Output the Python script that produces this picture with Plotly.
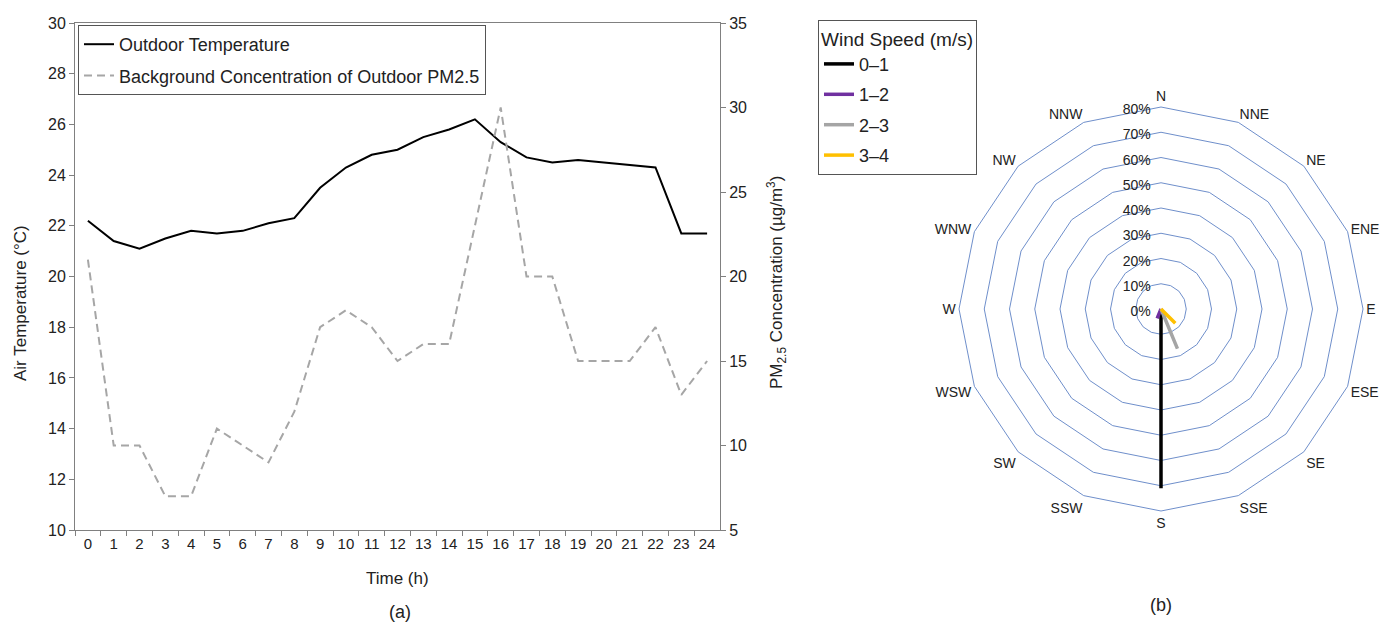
import plotly.graph_objects as go

# ---- Data (a): hourly outdoor temperature and PM2.5 ----
hours = [str(h) for h in range(25)]
temperature = [22.2, 21.4, 21.1, 21.5, 21.8, 21.7, 21.8, 22.1, 22.3, 23.5, 24.3, 24.8, 25.0,
               25.5, 25.8, 26.2, 25.3, 24.7, 24.5, 24.6, 24.5, 24.4, 24.3, 21.7, 21.7]
pm25 = [21, 10, 10, 7, 7, 11, 10, 9, 12, 17, 18, 17, 15, 16, 16, 23, 30, 20, 20, 15, 15, 15, 17, 13, 15]

# ---- Data (b): wind rose (% of time per direction and speed class) ----
directions = ["N", "NNE", "NE", "ENE", "E", "ESE", "SE", "SSE",
              "S", "SSW", "SW", "WSW", "W", "WNW", "NW", "NNW"]
speed_classes = ["0\u20131", "1\u20132", "2\u20133", "3\u20134"]
freq_0_1 = [0, 0, 0, 0, 0, 0, 0, 0, 71, 0, 0, 0, 0, 0, 0, 0]
freq_1_2 = [0, 0, 0, 0, 0, 0, 0, 0, 0, 4, 0, 0, 0, 0, 0, 0]
freq_2_3 = [0, 0, 0, 0, 0, 0, 0, 17, 0, 0, 0, 0, 0, 0, 0, 0]
freq_3_4 = [0, 0, 0, 0, 0, 0, 8, 0, 0, 0, 0, 0, 0, 0, 0, 0]
speed_colors = ["#000000", "#7030A0", "#A5A5A5", "#FFC000"]

W, H = 1386, 625
FONT = "Arial, Liberation Sans, sans-serif"
AX = "#808080"
TXT = "#222222"

def px(x):
    return x / W

def py(y):
    return 1 - y / H

fig = go.Figure()

fig.add_trace(go.Scatter(
    x=hours, y=temperature, mode="lines", name="Outdoor Temperature",
    line=dict(color="black", width=2), legend="legend", legendgroup="a1",
    xaxis="x", yaxis="y"))
fig.add_trace(go.Scatter(
    x=hours, y=pm25, mode="lines", name="Background Concentration of Outdoor PM2.5",
    line=dict(color="#A6A6A6", width=2, dash="8px,5px"), legend="legend", legendgroup="a2",
    xaxis="x", yaxis="y2"))

for i, (name, vals, col) in enumerate(zip(speed_classes, [freq_0_1, freq_1_2, freq_2_3, freq_3_4],
                                          speed_colors)):
    fig.add_trace(go.Scatterpolar(
        r=vals + vals[:1], theta=directions + directions[:1], mode="lines", name=name,
        line=dict(color=col, width=3.5), legend="legend2", legendgroup="b%d" % i,
        subplot="polar"))

grid_col = "#6F8FCB"
YTICKF = dict(size=16, color=TXT)
XTICKF = dict(size=15, color=TXT)

fig.update_layout(
    width=W, height=H, autosize=False,
    margin=dict(l=0, r=0, t=0, b=0, autoexpand=False),
    paper_bgcolor="white", plot_bgcolor="white",
    font=dict(family=FONT, color=TXT, size=16),
    xaxis=dict(domain=[px(75), px(720)], type="category", categoryorder="array",
               categoryarray=hours, range=[-0.5, len(hours) - 0.5],
               tickson="boundaries", ticks="outside", ticklen=5,
               tickcolor=AX, showline=True, linecolor=AX, linewidth=1, mirror=True,
               showgrid=False, zeroline=False, tickfont=XTICKF, tickangle=0,
               anchor="y", automargin=False),
    yaxis=dict(domain=[py(530), py(23)], range=[10, 30], dtick=2, ticks="outside", ticklen=5,
               tickcolor=AX, showline=True, linecolor=AX, linewidth=1, showgrid=False,
               zeroline=False, tickfont=YTICKF, anchor="x", automargin=False),
    yaxis2=dict(range=[5, 35], dtick=5, overlaying="y", side="right", ticks="outside", ticklen=5,
                tickcolor=AX, showline=True, linecolor=AX, linewidth=1, showgrid=False,
                zeroline=False, tickfont=YTICKF, anchor="x", automargin=False),
    polar=dict(
        domain=dict(x=[px(959), px(1363)], y=[py(511), py(107)]),
        gridshape="linear", bgcolor="white",
        angularaxis=dict(direction="clockwise", rotation=90, showgrid=False, showline=True,
                         linecolor=grid_col, linewidth=1, ticks="",
                         categoryorder="array", categoryarray=directions,
                         tickfont=dict(size=14, color=TXT)),
        radialaxis=dict(range=[0, 80], dtick=10, ticksuffix="%", angle=90,
                        side="counterclockwise", showline=False, gridcolor=grid_col,
                        gridwidth=1, ticks="", tickfont=dict(size=14, color=TXT)),
    ),
    legend=dict(x=px(78), y=py(25), xanchor="left", yanchor="top",
                bordercolor="#555555", borderwidth=1, bgcolor="white",
                font=dict(size=18, color=TXT), traceorder="grouped", tracegroupgap=5),
    legend2=dict(x=px(818), y=py(20), xanchor="left", yanchor="top",
                 bordercolor="#555555", borderwidth=1, bgcolor="white",
                 font=dict(size=18, color=TXT), traceorder="grouped", tracegroupgap=4,
                 title=dict(text="Wind Speed (m/s)", side="top", font=dict(size=19, color=TXT))),
    showlegend=True,
    annotations=[
        dict(text="Air Temperature (\u00b0C)", x=px(20), y=py(303), xref="paper", yref="paper",
             xanchor="center", yanchor="middle", textangle=-90, showarrow=False,
             font=dict(size=17, color=TXT)),
        dict(text="PM<sub>2.5</sub> Concentration (\u00b5g/m<sup>3</sup>)", x=px(776), y=py(283),
             xref="paper", yref="paper", xanchor="center", yanchor="middle", textangle=-90,
             showarrow=False, font=dict(size=17, color=TXT)),
        dict(text="Time (h)", x=px(397), y=py(578), xref="paper", yref="paper",
             xanchor="center", yanchor="middle", showarrow=False, font=dict(size=17, color=TXT)),
        dict(text="(a)", x=px(400), y=py(612), xref="paper", yref="paper",
             xanchor="center", yanchor="middle", showarrow=False, font=dict(size=18, color=TXT)),
        dict(text="(b)", x=px(1161), y=py(605), xref="paper", yref="paper",
             xanchor="center", yanchor="middle", showarrow=False, font=dict(size=18, color=TXT)),
    ],
)

fig.write_html("out.html", config={"displayModeBar": False},
               post_script="document.body.style.margin='0px';")
